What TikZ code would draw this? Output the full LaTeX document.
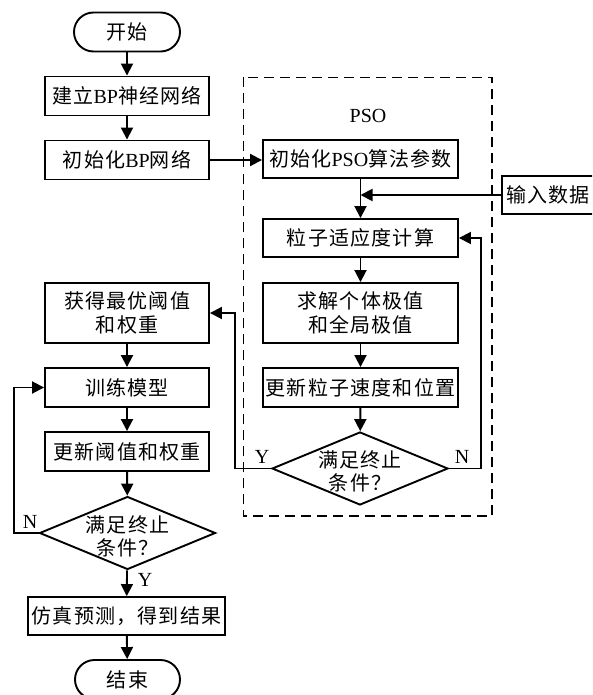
\documentclass[tikz,border=0pt]{standalone}
\usepackage{fontspec}
\setmainfont{Liberation Serif}
\newfontfamily\cjk[LetterSpace=6]{Noto Sans CJK SC}
\usetikzlibrary{arrows.meta,shapes.geometric}
\begin{document}
\begin{tikzpicture}[x=1pt,y=-1pt,
  font=\fontsize{20}{24}\selectfont,
  line width=1.9pt,
  >={Triangle[length=12pt,width=12pt]},
  box/.style={draw, minimum height=39pt, inner sep=0pt, align=center},
  term/.style={draw, rounded corners=19.5pt, minimum width=106pt, minimum height=39pt, inner sep=0pt},
  dia/.style={draw, diamond, inner sep=0pt, minimum width=176pt, minimum height=73pt},
  dtext/.style={inner sep=0pt, align=center, font=\fontsize{20}{23}\selectfont},
  yn/.style={inner sep=0pt},
  group/.style={dash pattern=on 10pt off 6pt, line width=1.8pt}]
\useasboundingbox (0,0) rectangle (592,695);
\clip (0,0) rectangle (592,695);

% PSO group frame
\draw[group] (243.5,77.5) rectangle (492,516);
\node[yn] (psolabel) at (368,116) {PSO};

% left column: BP network
\node[term] (start) at (127,32) {\cjk 开始};
\node[box, minimum width=164pt] (b1) at (127,96) {{\cjk 建立}BP{\cjk 神经网络}};
\node[box, minimum width=164pt] (b2) at (127,160) {{\cjk 初始化}BP{\cjk 网络}};
\node[box, minimum width=164pt, minimum height=60pt] (g1) at (127,313) {\cjk 获得最优阈值\\\cjk 和权重};
\node[box, minimum width=164pt] (g2) at (127,387.5) {\cjk 训练模型};
\node[box, minimum width=164pt] (g3) at (127,451.5) {\cjk 更新阈值和权重};
\node[dia] (d2) at (127.5,533) {};
\node[dtext] (d2t) at (127.5,536) {\cjk 满足终止\\\cjk 条件？};
\node[box, minimum width=197pt, minimum height=38pt] (g4) at (126.5,616) {\cjk 仿真预测，得到结果};
\node[term, minimum width=105pt] (stop) at (127.5,679.5) {\cjk 结束};

% right column: PSO
\node[box, minimum width=195pt, minimum height=38pt] (p1) at (360.5,159) {{\cjk 初始化}PSO{\cjk 算法参数}};
\node[box, minimum width=92pt, minimum height=38pt] (inp) at (548,195) {\cjk 输入数据};
\node[box, minimum width=195pt, minimum height=38pt] (p2) at (360.5,238) {\cjk 粒子适应度计算};
\node[box, minimum width=195pt, minimum height=60pt] (p3) at (360.5,313) {\cjk 求解个体极值\\\cjk 和全局极值};
\node[box, minimum width=195pt] (p4) at (360.5,387.5) {\cjk 更新粒子速度和位置};
\node[dia] (d1) at (360,468.5) {};
\node[dtext] (d1t) at (360,471.5) {\cjk 满足终止\\\cjk 条件？};

% main flow
\draw[->] (start) -- (b1);
\draw[->] (b1) -- (b2);
\draw[->] (b2.east) -- (b2.east -| p1.west);
\draw[->] (p1) -- (p2);
\coordinate (join) at (inp.west -| p1.south);
\draw[->] (inp.west) -- (join);
\draw[->] (p2) -- (p3);
\draw[->] (p3) -- (p4);
\draw[->] (p4) -- (d1);

% PSO loop and exit
\coordinate (nr) at (481,468.5);
\draw[->] (d1.east) -- (nr) |- (p2.east);
\node[yn] (n1) at (462,457) {N};
\coordinate (yl) at (235,468.5);
\draw[->] (d1.west) -- (yl) |- (g1.east);
\node[yn] (y1) at (262,457) {Y};

% BP training loop
\draw[->] (g1) -- (g2);
\draw[->] (g2) -- (g3);
\draw[->] (g3) -- (d2);
\coordinate (nl) at (14,533);
\draw[->] (d2.west) -- (nl) |- (g2.west);
\node[yn] (n2) at (30,522) {N};
\draw[->] (d2) -- (g4);
\node[yn] (y2) at (145,580) {Y};
\draw[->] (g4) -- (stop);
\end{tikzpicture}
\end{document}
